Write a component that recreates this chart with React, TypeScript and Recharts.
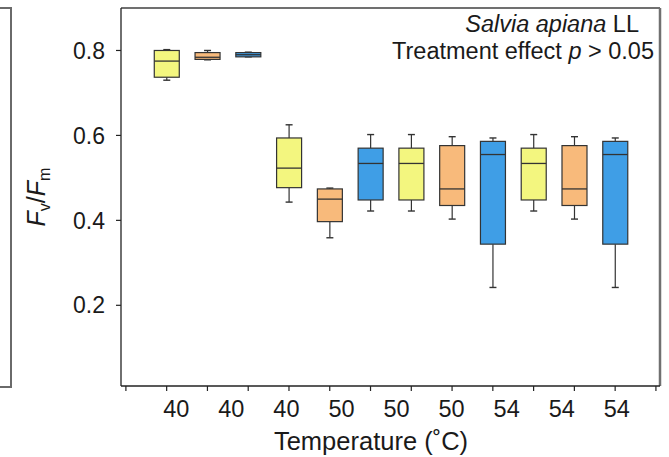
import React from "react";
import { ComposedChart, Bar, XAxis, YAxis, Label, ReferenceLine } from "recharts";

// ---------- data ----------
const temperatureLabels = ["40", "40", "40", "50", "50", "50", "54", "54", "54"];
const boxPositions = [1, 2, 3, 4, 5, 6, 7, 8, 9, 10, 11, 12];
const treatments = ["A", "B", "C", "A", "B", "C", "A", "B", "C", "A", "B", "C"];
const whiskerLow = [0.730, 0.778, 0.785, 0.443, 0.359, 0.422, 0.422, 0.403, 0.242, 0.422, 0.403, 0.242];
const quartile1 = [0.737, 0.779, 0.785, 0.477, 0.397, 0.448, 0.448, 0.435, 0.344, 0.448, 0.435, 0.344];
const medians = [0.775, 0.784, 0.790, 0.523, 0.450, 0.534, 0.534, 0.474, 0.555, 0.534, 0.474, 0.555];
const quartile3 = [0.800, 0.795, 0.795, 0.594, 0.474, 0.570, 0.570, 0.576, 0.586, 0.570, 0.576, 0.586];
const whiskerHigh = [0.802, 0.800, 0.796, 0.625, 0.476, 0.602, 0.602, 0.597, 0.594, 0.602, 0.597, 0.594];
const yTicks = [0.2, 0.4, 0.6, 0.8];

// ---------- styles / layout ----------
const COLORS: Record<string, string> = { A: "#F3F67F", B: "#F8BA7B", C: "#3F9EE6" };
const FONT = "'Liberation Sans', Arial, sans-serif";
const TEXT = "#1a1a1a";
const W = 669;
const H = 457;
const X_DOMAIN: [number, number] = [-0.12, 13.1];
const Y_DOMAIN: [number, number] = [0.01, 0.9];
const axisTicks = Array.from({ length: 14 }, (_, i) => i);
const LABEL_START = 1.236;
const LABEL_STEP = 1.3505;
const labelTicks = temperatureLabels.map((_, i) => LABEL_START + i * LABEL_STEP);

const data = boxPositions.map((pos, i) => ({
  pos,
  treatment: treatments[i],
  min: whiskerLow[i],
  q1: quartile1[i],
  median: medians[i],
  q3: quartile3[i],
  max: whiskerHigh[i],
  range: [whiskerLow[i], whiskerHigh[i]],
}));

const BoxShape = (props: any) => {
  const { x, y, width, height } = props;
  const p = props.payload ?? props;
  const { min, q1, median, q3, max, treatment } = p;
  const top = Math.min(y, y + height);
  const h = Math.abs(height);
  const span = max - min || 1;
  const py = (v: number) => top + ((max - v) / span) * h;
  const cx = x + width / 2;
  const cap = 3.5;
  const stroke = "#333";
  return (
    <g>
      <line x1={cx} x2={cx} y1={py(max)} y2={py(q3)} stroke={stroke} strokeWidth={1.2} />
      <line x1={cx} x2={cx} y1={py(q1)} y2={py(min)} stroke={stroke} strokeWidth={1.2} />
      <line x1={cx - cap} x2={cx + cap} y1={py(max)} y2={py(max)} stroke={stroke} strokeWidth={1.4} />
      <line x1={cx - cap} x2={cx + cap} y1={py(min)} y2={py(min)} stroke={stroke} strokeWidth={1.4} />
      <rect
        x={x}
        y={py(q3)}
        width={width}
        height={Math.max(py(q1) - py(q3), 0.5)}
        fill={COLORS[treatment]}
        stroke={stroke}
        strokeWidth={1.2}
      />
      <line x1={x} x2={x + width} y1={py(median)} y2={py(median)} stroke={stroke} strokeWidth={1.3} />
    </g>
  );
};

const YTitle = (props: any) => {
  const vb = props.viewBox || { x: 0, y: 8, width: 121, height: 378 };
  const cx = 45;
  const cy = vb.y + vb.height / 2;
  return (
    <text
      x={cx}
      y={cy}
      transform={`rotate(-90, ${cx}, ${cy})`}
      textAnchor="middle"
      fontSize={25}
      fontFamily={FONT}
      fill={TEXT}
    >
      <tspan fontStyle="italic">F</tspan>
      <tspan fontSize={16} dy={5}>v</tspan>
      <tspan dy={-5}>/</tspan>
      <tspan fontStyle="italic">F</tspan>
      <tspan fontSize={16} dy={5}>m</tspan>
    </text>
  );
};

const XTitle = (props: any) => {
  const vb = props.viewBox || { x: 121, y: 392, width: 539, height: 30 };
  const cx = vb.x + vb.width / 2 - 19.5;
  return (
    <text x={cx} y={450} textAnchor="middle" fontSize={25.5} fontFamily={FONT} fill={TEXT}>
      Temperature (˚C)
    </text>
  );
};

const Annotation = (props: any) => {
  const vb = props.viewBox || { x: 121, y: 8, width: 539, height: 0 };
  const right = vb.x + vb.width;
  return (
    <g fontFamily={FONT} fontSize={23.5} fill={TEXT}>
      <text x={right - 21} y={31.5} textAnchor="end">
        <tspan fontStyle="italic">Salvia apiana</tspan>
        <tspan>{" LL"}</tspan>
      </text>
      <text x={right - 6} y={58.5} textAnchor="end">
        <tspan>{"Treatment effect "}</tspan>
        <tspan fontStyle="italic">p</tspan>
        <tspan>{" > 0.05"}</tspan>
      </text>
    </g>
  );
};

export default function App() {
  return (
    <div style={{ position: "absolute", left: 0, top: 0, width: W, height: H, background: "#fff" }}>
      <div
        style={{
          position: "absolute",
          left: 0,
          top: 7,
          width: 10,
          height: 377,
          borderTop: "2px solid #6a6a6a",
          borderRight: "2px solid #6a6a6a",
          borderBottom: "2px solid #6a6a6a",
        }}
      />
      <ComposedChart
        width={W}
        height={H}
        data={data}
        margin={{ top: 8, right: 9, bottom: 35, left: 0 }}
        style={{ position: "absolute", left: 0, top: 0 }}
      >
        <XAxis
          xAxisId={0}
          type="number"
          dataKey="pos"
          domain={X_DOMAIN}
          allowDataOverflow
          ticks={axisTicks}
          interval={0}
          height={6}
          tickSize={5}
          tickFormatter={() => ""}
          axisLine={{ stroke: "#222", strokeWidth: 1.3 }}
          tickLine={{ stroke: "#222", strokeWidth: 1.2 }}
        />
        <XAxis
          xAxisId="lab"
          type="number"
          dataKey="pos"
          domain={X_DOMAIN}
          allowDataOverflow
          ticks={labelTicks}
          interval={0}
          height={30}
          tickSize={0}
          tickMargin={8}
          axisLine={false}
          tickLine={false}
          tickFormatter={(v: number) => {
            const idx = labelTicks.findIndex((t) => Math.abs(t - v) < 1e-6);
            return idx >= 0 ? temperatureLabels[idx] : "";
          }}
          tick={{ fontSize: 23.5, fill: TEXT, fontFamily: FONT }}
        >
          <Label content={<XTitle />} />
        </XAxis>
        <YAxis
          yAxisId={0}
          type="number"
          domain={Y_DOMAIN}
          allowDataOverflow
          ticks={yTicks}
          interval={0}
          width={121}
          tickSize={5}
          tickMargin={11}
          tickFormatter={(v: number) => v.toFixed(1)}
          axisLine={{ stroke: "#222", strokeWidth: 1.3 }}
          tickLine={{ stroke: "#222", strokeWidth: 1.2 }}
          tick={{ fontSize: 23, fill: TEXT, fontFamily: FONT }}
        >
          <Label content={<YTitle />} />
        </YAxis>
        <ReferenceLine
          xAxisId={0}
          yAxisId={0}
          y={Y_DOMAIN[1]}
          stroke="#707070"
          strokeWidth={2}
          ifOverflow="visible"
        >
          <Label content={<Annotation />} />
        </ReferenceLine>
        <ReferenceLine
          xAxisId={0}
          yAxisId={0}
          x={X_DOMAIN[1]}
          stroke="#707070"
          strokeWidth={2.5}
          ifOverflow="visible"
        />
        <Bar
          xAxisId={0}
          yAxisId={0}
          dataKey="range"
          barSize={25}
          shape={<BoxShape />}
          isAnimationActive={false}
        />
      </ComposedChart>
    </div>
  );
}
